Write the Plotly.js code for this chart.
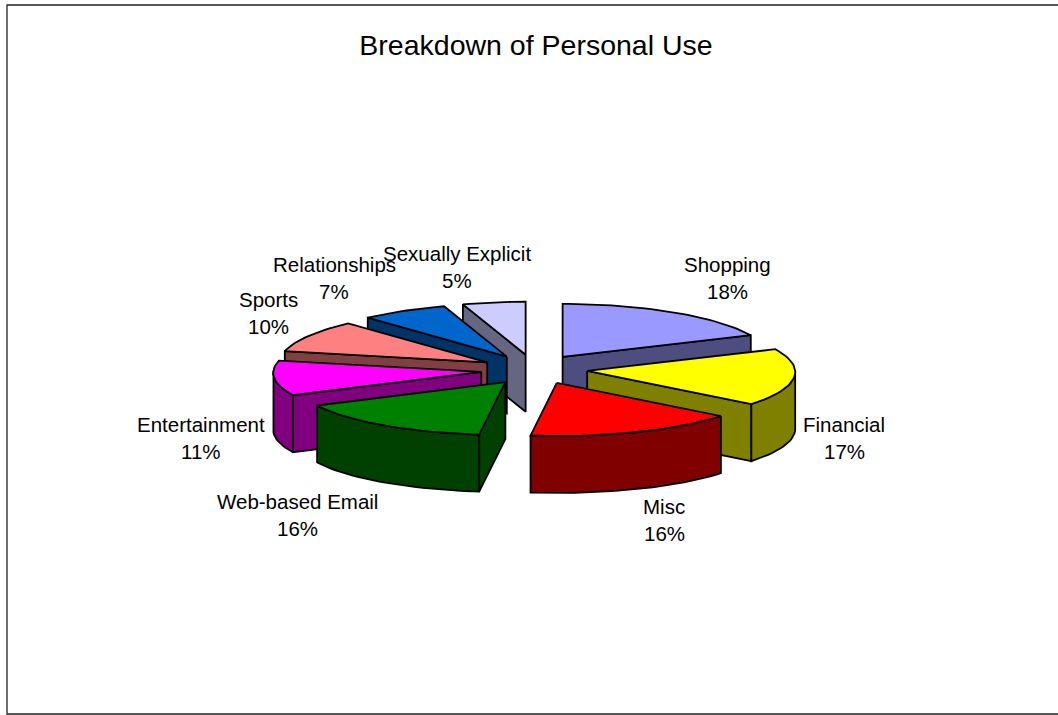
<!DOCTYPE html>
<html>
<head>
<meta charset="utf-8">
<script src="https://cdn.plot.ly/plotly-3.0.1.min.js"></script>
<style>html,body{margin:0;padding:0;background:#fff;overflow:hidden}#chart{width:1058px;height:715px}</style>
</head>
<body>
<div id="chart"></div>
<script>
// ---- data ----
const categories = ["Shopping","Financial","Misc","Web-based Email","Entertainment","Sports","Relationships","Sexually Explicit"];
const shares = [18,17,16,16,11,10,7,5];

// ---- styling ----
const topColors  = ["#9999FF","#FFFF00","#FF0000","#008000","#FF00FF","#FF8080","#0066CC","#CCCCFF"];
const sideColors = ["#4D4D80","#808000","#800000","#004000","#800080","#804040","#003366","#666680"];
const labelCentres = [[727,264],[844,424],[664,506],[297,501],[201,424],[268,299],[334,264],[457,253]];
const FONT = "Liberation Sans, Arial, sans-serif";
const PIE = {cx:534, cy:369.5, rx:208, ry:53, depth:57, ex:53.4, ey:14.9, warp:3.5, persp:0.02};
const rad = d => d*Math.PI/180;

// projection of the pie plane; warp and persp mimic the foreshortening of the tilted view
const warp = t => t + PIE.warp*(1-Math.cos(rad(t)))/2;
const rim = (a,t,dz) => { const w = rad(warp(t));
  const r = PIE.rx*(1-PIE.persp*Math.cos(w));
  return [a[0]+r*Math.sin(w), a[1]-PIE.ry*Math.cos(w)+dz]; };

const traces = [];
function poly(pts, color, name){
  traces.push({type:"scatter", mode:"lines", x:pts.map(p=>p[0]).concat(pts[0][0]), y:pts.map(p=>p[1]).concat(pts[0][1]),
    fill:"toself", fillcolor:color, line:{color:"#000", width:1.8, shape:"linear"}, name:name,
    hoverinfo:"name", showlegend:false});
}
function arc(a,t0,t1,dz){ const out=[]; const n=Math.max(2,Math.ceil((t1-t0)/2));
  for(let i=0;i<=n;i++) out.push(rim(a,t0+(t1-t0)*i/n,dz)); return out; }

const total = shares.reduce((s,v)=>s+v,0);
let acc = 0;
const slices = shares.map((v,i)=>{ const t0=acc/total*360; acc+=v; const t1=acc/total*360; return {i,t0,t1,mid:(t0+t1)/2}; });
const order = slices.slice().sort((a,b)=>Math.cos(rad(b.mid))-Math.cos(rad(a.mid)));

order.forEach(s=>{
  const m = rad(s.mid), name = categories[s.i];
  const apex = [PIE.cx+PIE.ex*Math.sin(m), PIE.cy-PIE.ey*Math.cos(m)];
  const low = [apex[0], apex[1]+PIE.depth];
  const side = sideColors[s.i];
  if(Math.sin(rad(s.t0))<0) poly([apex,rim(apex,s.t0,0),rim(apex,s.t0,PIE.depth),low], side, name);
  if(Math.sin(rad(s.t1))>0) poly([apex,rim(apex,s.t1,0),rim(apex,s.t1,PIE.depth),low], side, name);
  const a0=Math.max(s.t0,90), a1=Math.min(s.t1,270);
  if(a1>a0) poly(arc(apex,a0,a1,0).concat(arc(apex,a0,a1,PIE.depth).reverse()), side, name);
  poly([apex].concat(arc(apex,s.t0,s.t1,0)), topColors[s.i], name);
});

const annotations = [];
categories.forEach((c,i)=>{
  const [x,y]=labelCentres[i];
  annotations.push({x:x,y:y,xref:"x",yref:"y",text:c,showarrow:false,xanchor:"center",yanchor:"middle",font:{family:FONT,size:20.5,color:"#000"}});
  annotations.push({x:x,y:y+27,xref:"x",yref:"y",text:shares[i]+"%",showarrow:false,xanchor:"center",yanchor:"middle",font:{family:FONT,size:20.5,color:"#000"}});
});

const hidden = {visible:false, fixedrange:true};
Plotly.newPlot("chart", traces, {
  width:1058, height:715, margin:{l:0,r:0,t:0,b:0}, showlegend:false,
  paper_bgcolor:"#fff", plot_bgcolor:"#fff",
  title:{text:"Breakdown of Personal Use", x:536/1058, xanchor:"center", xref:"paper", y:1-45/715, yanchor:"middle", yref:"paper", font:{family:FONT,size:28.5,color:"#000"}},
  xaxis:Object.assign({range:[0,1058]},hidden),
  yaxis:Object.assign({range:[715,0]},hidden),
  annotations:annotations,
  shapes:[{type:"rect",xref:"x",yref:"y",x0:7,y0:5,x1:1062,y1:714,line:{color:"#222",width:1.3},fillcolor:"rgba(0,0,0,0)",layer:"below"}]
},{displayModeBar:false,staticPlot:true});
</script>
</body>
</html>
